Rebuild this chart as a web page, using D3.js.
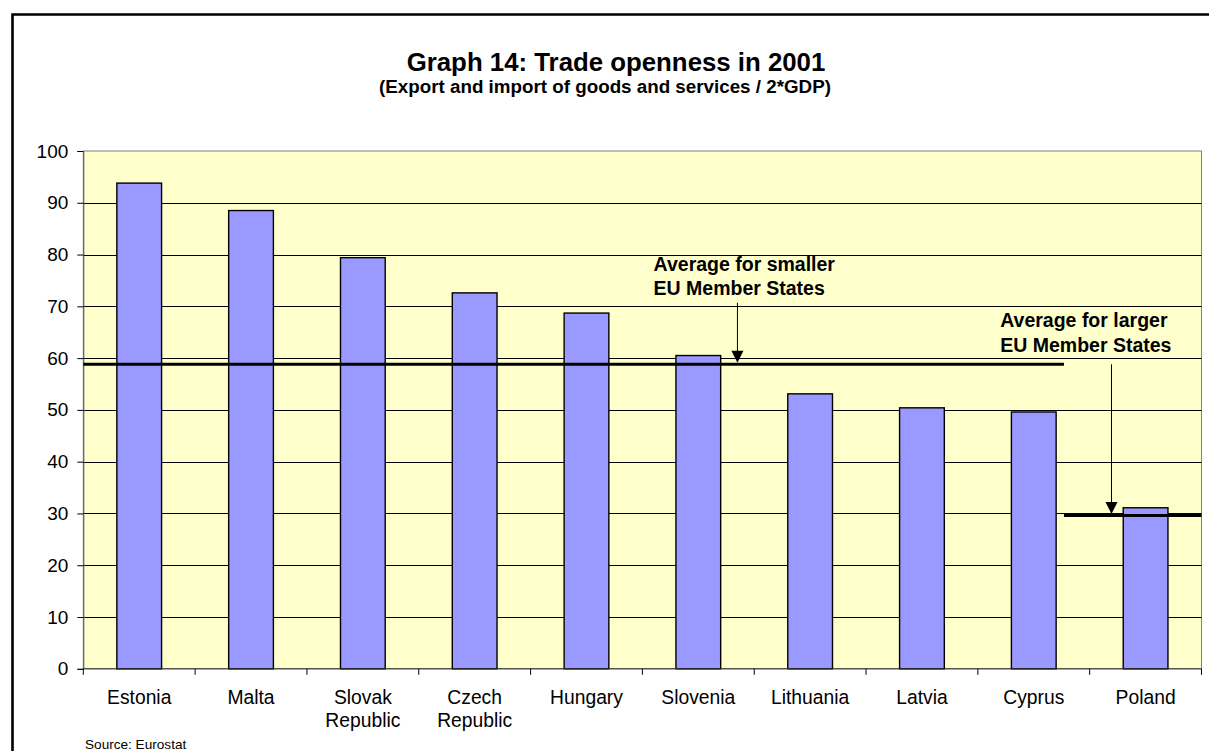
<!DOCTYPE html>
<html>
<head>
<meta charset="utf-8">
<script src="https://cdn.jsdelivr.net/npm/d3@7"></script>
<style>
  body { margin: 0; background: #fff; }
  text { font-family: "Liberation Sans", Arial, sans-serif; }
</style>
</head>
<body>
<div class="chart"></div>
<script>
// trade openness 2001
var countries = ['Estonia', 'Malta', 'Slovak Republic', 'Czech Republic', 'Hungary',
  'Slovenia', 'Lithuania', 'Latvia', 'Cyprus', 'Poland']
var openness = [93.8, 88.5, 79.4, 72.6, 68.7, 60.5, 53.1, 50.4, 49.6, 31.1]
var yTicks = [0, 10, 20, 30, 40, 50, 60, 70, 80, 90, 100]

// the two averages, with where their lines run (in category positions 0..10)
var averages = [
  { value: 58.8, from: 0, to: 8.77, label: ['Average for smaller', 'EU Member States'],
    labelAt: 5.1, labelY: [76.9, 72.2], arrowAt: 5.85, arrowFrom: 70.7 },
  { value: 29.6, from: 8.77, to: 10, label: ['Average for larger', 'EU Member States'],
    labelAt: 8.2, labelY: [66.0, 61.1], arrowAt: 9.195, arrowFrom: 58.8 }
]

var W = 1209, H = 751
var plotL = 83.3, plotR = 1201.5, plotT = 151, plotB = 668.8

var svg = d3.select('.chart')
  .append('svg')
    .attr('width', W)
    .attr('height', H)

// outer frame (runs off the right and bottom)
svg.append('path')
  .attr('d', `M12.5,${H + 5} V14.5 H${W + 5}`)
  .attr('fill', 'none')
  .attr('stroke', '#000')
  .attr('stroke-width', 2.6)

svg.append('text')
  .attr('x', 616).attr('y', 70.5)
  .attr('text-anchor', 'middle')
  .style('font-size', '25.8px').style('font-weight', 'bold')
  .text('Graph 14: Trade openness in 2001')

svg.append('text')
  .attr('x', 605).attr('y', 92.5)
  .attr('text-anchor', 'middle')
  .style('font-size', '18.8px').style('font-weight', 'bold')
  .text('(Export and import of goods and services / 2*GDP)')

var x = d3.scaleBand()
  .domain(countries)
  .range([plotL, plotR])
  .paddingInner(0.6)
  .paddingOuter(0.3)

var xi = d3.scaleLinear().domain([0, countries.length]).range([plotL, plotR])

var y = d3.scaleLinear().domain([0, 100]).range([plotB, plotT])

// plot area
svg.append('rect')
  .attr('x', plotL).attr('y', plotT)
  .attr('width', plotR - plotL).attr('height', plotB - plotT)
  .attr('fill', '#ffffcc')
  .attr('stroke', '#808080')
  .attr('stroke-width', 1)

// gridlines
svg.append('g')
  .selectAll('line')
  .data(yTicks.filter(d => d > 0 && d < 100))
  .enter()
    .append('line')
    .attr('x1', plotL).attr('x2', plotR)
    .attr('y1', d => Math.round(y(d)) + 0.5)
    .attr('y2', d => Math.round(y(d)) + 0.5)
    .attr('stroke', '#000')
    .attr('stroke-width', 1)

// bars
svg.append('g')
  .selectAll('rect')
  .data(openness)
  .enter()
    .append('rect')
    .attr('x', (d, i) => x(countries[i]))
    .attr('y', d => y(d))
    .attr('width', x.bandwidth())
    .attr('height', d => y(0) - y(d))
    .attr('fill', '#9999ff')
    .attr('stroke', '#000')
    .attr('stroke-width', 1.4)

// y axis
var yAxis = svg.append('g')
  .attr('transform', `translate(${plotL},0)`)
  .call(d3.axisLeft(y).tickValues(yTicks).tickSize(6).tickPadding(9))
yAxis.select('.domain').attr('stroke', '#555')
yAxis.selectAll('.tick line').attr('stroke', '#000')
yAxis.selectAll('text')
  .style('font-size', '19px')
  .style('font-family', '"Liberation Sans", Arial, sans-serif')
  .attr('fill', '#000')

// x axis: ticks at category boundaries
svg.append('line')
  .attr('x1', plotL).attr('x2', plotR)
  .attr('y1', plotB).attr('y2', plotB)
  .attr('stroke', '#333')
svg.append('g')
  .selectAll('line')
  .data(d3.range(countries.length + 1))
  .enter()
    .append('line')
    .attr('x1', d => xi(d)).attr('x2', d => xi(d))
    .attr('y1', plotB).attr('y2', plotB + 6)
    .attr('stroke', '#000')

var labels = svg.append('g')
  .selectAll('text')
  .data(countries)
  .enter()
    .append('text')
    .attr('x', d => x(d) + x.bandwidth() / 2)
    .attr('y', 704)
    .attr('text-anchor', 'middle')
    .style('font-size', '19.3px')
labels.selectAll('tspan')
  .data(d => d.split(' '))
  .enter()
    .append('tspan')
    .attr('x', function () { return this.parentNode.getAttribute('x') })
    .attr('dy', (d, i) => i ? 22.5 : 0)
    .text(d => d)

// average lines, arrows and notes
averages.forEach(function (a) {
  svg.append('line')
    .attr('x1', xi(a.from)).attr('x2', xi(a.to))
    .attr('y1', y(a.value)).attr('y2', y(a.value))
    .attr('stroke', '#000')
    .attr('stroke-width', 3)

  var ax = xi(a.arrowAt)
  var tip = y(a.value) - 1.5
  svg.append('line')
    .attr('x1', ax).attr('x2', ax)
    .attr('y1', y(a.arrowFrom)).attr('y2', tip - 8)
    .attr('stroke', '#000')
    .attr('stroke-width', 1)
  svg.append('path')
    .attr('d', `M${ax - 6},${tip - 12} L${ax + 6},${tip - 12} L${ax},${tip} Z`)
    .attr('fill', '#000')

  svg.append('g')
    .selectAll('text')
    .data(a.label)
    .enter()
      .append('text')
      .attr('x', xi(a.labelAt))
      .attr('y', (d, i) => y(a.labelY[i]))
      .style('font-size', '19.5px')
      .style('font-weight', 'bold')
      .text(d => d)
})

svg.append('text')
  .attr('x', 85).attr('y', 749)
  .style('font-size', '13.6px')
  .text('Source:  Eurostat')
</script>
</body>
</html>
